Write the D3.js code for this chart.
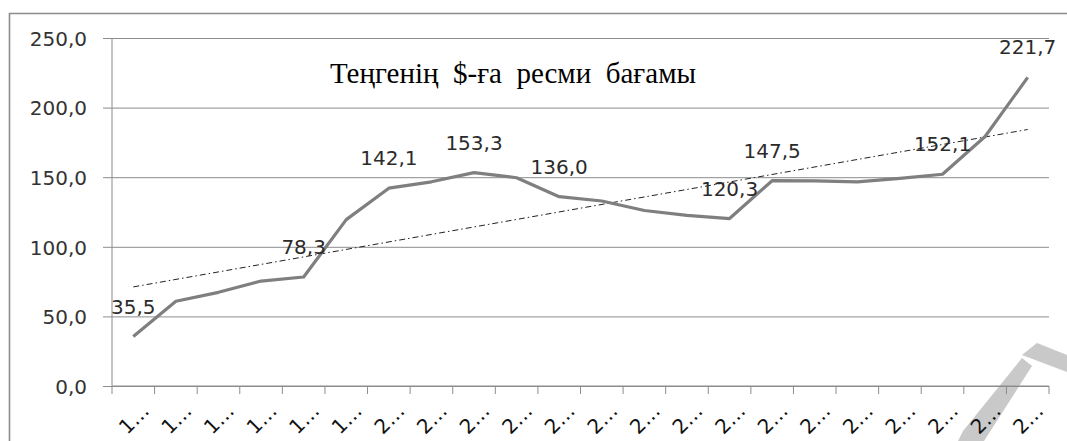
<!DOCTYPE html>
<html>
<head>
<meta charset="utf-8">
<script src="https://cdn.jsdelivr.net/npm/d3@7"></script>
<style>
  body { margin: 0; background: #fff; }
  svg { display: block; }
</style>
</head>
<body>
<div id="chart"></div>
<script>

// years on the x axis (excel only shows the first digit + "…")
var years = [1994, 1995, 1996, 1997, 1998, 1999, 2000, 2001, 2002, 2003, 2004,
             2005, 2006, 2007, 2008, 2009, 2010, 2011, 2012, 2013, 2014, 2015];

// tenge per $ rate
var rates = [35.5, 60.9, 67.3, 75.4, 78.3, 119.5, 142.1, 146.7, 153.3, 149.6, 136.0,
             132.9, 126.1, 122.6, 120.3, 147.5, 147.4, 146.6, 149.1, 152.1, 179.2, 221.7];

// which years get a value label
var labelledYears = [1994, 1998, 2000, 2002, 2004, 2008, 2009, 2013, 2015];

var yTicks = [0, 50, 100, 150, 200, 250];

var title = "Теңгенің  $-ға  ресми  бағамы";

var width = 1067,
    height = 441;

var margin = {top: 38, right: 18, bottom: 55, left: 112};

var svg = d3.select("#chart")
  .append("svg")
    .attr("width", width)
    .attr("height", height);

// grey chevron scan artifact in the bottom right corner (drawn behind everything)
var mark = svg.append("g").attr("fill", "#c9c9c9");
mark.append("polygon").attr("points", "1037,343 1067,355 1067,372 1022,355");
mark.append("polygon").attr("points", "1022,358 1032,366 984,441 958,441 963,431");

// outer chart frame (only left + top edges show in the crop)
svg.append("path")
  .attr("d", "M9.5,441V13.5H1067")
  .attr("fill", "none")
  .attr("stroke", "#8c8c8c")
  .attr("stroke-width", 1.6);

var x = d3.scaleBand()
  .domain(years)
  .range([margin.left, width - margin.right]);

var y = d3.scaleLinear()
  .domain([0, 250])
  .range([386, 38]);

var cx = function(yr) { return x(yr) + x.bandwidth() / 2; };

// horizontal gridlines + y labels
var yAxis = svg.append("g")
  .attr("transform", "translate(" + margin.left + ",0)")
  .call(d3.axisLeft(y)
    .tickValues(yTicks)
    .tickSize(9)
    .tickFormat(function(d) { return d3.format(".1f")(d).replace(".", ","); }));

yAxis.select(".domain").remove();
yAxis.selectAll(".tick line")
  .attr("x2", width - margin.right - margin.left)
  .attr("x1", -9)
  .attr("stroke", "#8c8c8c");
yAxis.selectAll(".tick text")
  .attr("x", -25)
  .attr("dy", "0.36em")
  .attr("fill", "#333")
  .style("font-family", "DejaVu Sans")
  .style("font-size", "20px");

// left axis line
svg.append("line")
  .attr("x1", margin.left).attr("x2", margin.left)
  .attr("y1", y(250)).attr("y2", y(0))
  .attr("stroke", "#8c8c8c");

// x axis with ticks on band edges
var xAxis = svg.append("g")
  .attr("transform", "translate(0," + y(0) + ")");

xAxis.append("line")
  .attr("x1", margin.left).attr("x2", width - margin.right)
  .attr("stroke", "#8c8c8c");

var edges = years.map(function(d) { return x(d); }).concat([width - margin.right]);
xAxis.selectAll(".xtick")
  .data(edges)
  .enter()
  .append("line")
    .attr("x1", function(d) { return d; })
    .attr("x2", function(d) { return d; })
    .attr("y1", 0).attr("y2", 8)
    .attr("stroke", "#8c8c8c");

xAxis.selectAll(".xlab")
  .data(years)
  .enter()
  .append("text")
    .attr("transform", function(d) { return "translate(" + (cx(d) + 17) + ",26) rotate(-45)"; })
    .attr("text-anchor", "end")
    .attr("fill", "#111")
    .style("font-family", "DejaVu Sans")
    .style("font-size", "20px")
    .text(function(d) { return String(d).charAt(0) + "…"; });

// linear trend (least squares on the year index)
var n = rates.length;
var mx = d3.mean(d3.range(n)), my = d3.mean(rates);
var sxy = d3.sum(rates, function(v, i) { return (i - mx) * (v - my); });
var sxx = d3.sum(d3.range(n), function(i) { return (i - mx) * (i - mx); });
var slope = sxy / sxx, icpt = my - slope * mx;

svg.append("line")
  .attr("x1", cx(years[0]))
  .attr("y1", y(icpt))
  .attr("x2", cx(years[n - 1]))
  .attr("y2", y(icpt + slope * (n - 1)))
  .attr("stroke", "#222")
  .attr("stroke-width", 1)
  .attr("stroke-dasharray", "6,3,1.5,3");

// the rate line
var line = d3.line()
  .x(function(d, i) { return cx(years[i]); })
  .y(function(d) { return y(d); });

svg.append("path")
  .datum(rates)
  .attr("d", line)
  .attr("fill", "none")
  .attr("stroke", "#7f7f7f")
  .attr("stroke-width", 3.2)
  .attr("stroke-linejoin", "round");

// value labels
svg.selectAll(".vlab")
  .data(labelledYears)
  .enter()
  .append("text")
    .attr("x", function(d) { return cx(d); })
    .attr("y", function(d) { return y(rates[years.indexOf(d)]) - 23; })
    .attr("text-anchor", "middle")
    .attr("fill", "#2b2b2b")
    .style("font-family", "DejaVu Sans")
    .style("font-size", "20px")
    .text(function(d) { return rates[years.indexOf(d)].toFixed(1).replace(".", ","); });

// title inside the plot
svg.append("text")
  .attr("x", 513)
  .attr("y", 83)
  .attr("text-anchor", "middle")
  .attr("fill", "#000")
  .style("font-family", "Liberation Serif")
  .style("font-size", "29px")
  .style("white-space", "pre")
  .text(title);

</script>
</body>
</html>
